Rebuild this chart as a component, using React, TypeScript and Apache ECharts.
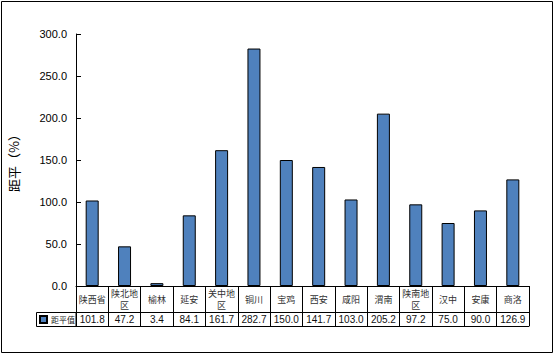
import React, { useEffect, useRef } from "react";
import * as echarts from "echarts";

const categories = ["陕西省", "陕北地\n区", "榆林", "延安", "关中地\n区", "铜川", "宝鸡", "西安", "咸阳", "渭南", "陕南地\n区", "汉中", "安康", "商洛"];
const values = [101.8, 47.2, 3.4, 84.1, 161.7, 282.7, 150.0, 141.7, 103.0, 205.2, 97.2, 75.0, 90.0, 126.9];
const seriesName = "距平值";
const yAxisName = "距平（%）";

export default function App() {
  const ref = useRef<HTMLDivElement>(null);
  useEffect(() => {
    document.body.style.margin = "0";
    const chart = echarts.init(ref.current!, null, { renderer: "svg" });
    const cjk = "'Noto Sans CJK SC', sans-serif";
    const num = "'Liberation Sans', sans-serif";
    chart.setOption({
      animation: false,
      backgroundColor: "#fff",
      grid: { left: 76, right: 26, top: 34, bottom: 69, containLabel: false, outerBoundsMode: "none" },
      legend: {
        show: true,
        left: 39,
        top: 315,
        itemWidth: 7,
        itemHeight: 7,
        itemGap: 2,
        padding: 0,
        icon: "rect",
        data: [seriesName],
        textStyle: { fontSize: 8, color: "#222", fontFamily: cjk, padding: [0, 0, 0, -1] },
      },
      xAxis: [
        {
          type: "category",
          data: categories,
          position: "bottom",
          boundaryGap: true,
          axisLine: { show: true, lineStyle: { color: "#000", width: 1 } },
          axisTick: { show: true, interval: 0, length: 40, lineStyle: { color: "#000", width: 1 } },
          axisLabel: {
            interval: 0,
            fontSize: 9,
            lineHeight: 12,
            color: "#333",
            fontFamily: cjk,
            margin: 13,
            verticalAlign: "middle",
          },
        },
        {
          type: "category",
          data: categories,
          position: "bottom",
          offset: 26,
          boundaryGap: true,
          axisLine: { show: true, lineStyle: { color: "#000", width: 1 } },
          axisTick: { show: false },
          axisLabel: {
            interval: 0,
            fontSize: 10,
            color: "#111",
            fontFamily: num,
            margin: 7,
            verticalAlign: "middle",
            formatter: (_v: string, i: number) => values[i].toFixed(1),
          },
        },
        {
          type: "category",
          data: categories,
          position: "bottom",
          offset: 40,
          axisLine: { show: true, lineStyle: { color: "#000", width: 1 } },
          axisTick: { show: false },
          axisLabel: { show: false },
        },
      ],
      yAxis: {
        type: "value",
        min: 0,
        max: 300,
        interval: 50,
        name: yAxisName,
        nameLocation: "middle",
        nameRotate: 90,
        nameGap: 56,
        nameTextStyle: { fontSize: 13, color: "#000", fontFamily: cjk },
        axisLine: { show: true, lineStyle: { color: "#000", width: 1 } },
        axisTick: { show: true, inside: true, length: 5, lineStyle: { color: "#000" } },
        splitLine: { show: false },
        axisLabel: {
          fontSize: 11,
          color: "#000",
          fontFamily: num,
          margin: 9,
          formatter: (v: number) => v.toFixed(1),
        },
      },
      series: [
        {
          name: seriesName,
          type: "bar",
          data: values,
          barWidth: 13,
          itemStyle: { color: "#4F81BD", borderColor: "#000", borderWidth: 1 },
        },
      ],
      graphic: [
        {
          type: "rect",
          shape: { x: 1.5, y: 1.5, width: 551, height: 351 },
          style: { fill: "none", stroke: "#000", lineWidth: 1 },
          silent: true,
        },
        {
          type: "rect",
          shape: { x: 36.5, y: 312.5, width: 39.5, height: 14 },
          style: { fill: "none", stroke: "#000", lineWidth: 1 },
          silent: true,
        },
      ],
    });
    return () => chart.dispose();
  }, []);
  return <div ref={ref} style={{ width: 555, height: 355 }} />;
}
